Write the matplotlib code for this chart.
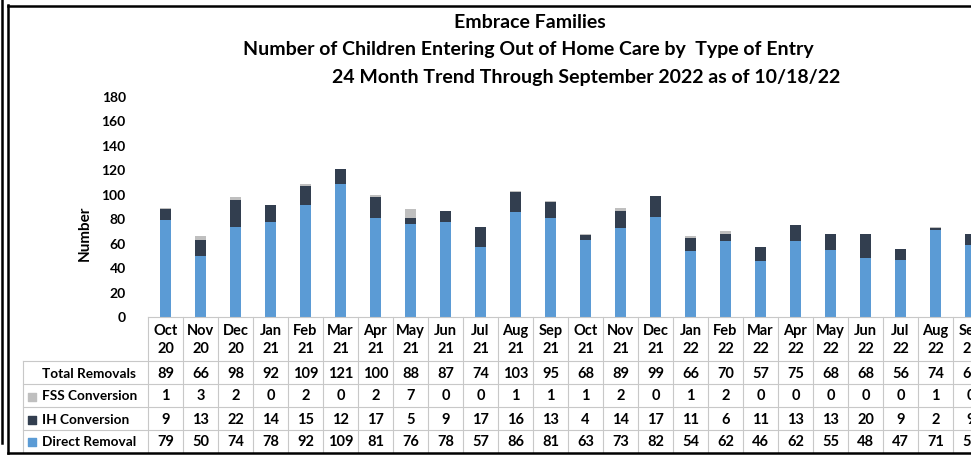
import numpy as np
import matplotlib.pyplot as plt
from matplotlib.lines import Line2D

plt.rcParams['font.family'] = ['Lato', 'DejaVu Sans']
plt.rcParams['font.weight'] = 'bold'

months = ['Oct', 'Nov', 'Dec', 'Jan', 'Feb', 'Mar', 'Apr', 'May', 'Jun', 'Jul', 'Aug', 'Sep',
          'Oct', 'Nov', 'Dec', 'Jan', 'Feb', 'Mar', 'Apr', 'May', 'Jun', 'Jul', 'Aug', 'Sep']
years = ['20', '20', '20', '21', '21', '21', '21', '21', '21', '21', '21', '21',
         '21', '21', '21', '22', '22', '22', '22', '22', '22', '22', '22', '22']
total_removals = [89, 66, 98, 92, 109, 121, 100, 88, 87, 74, 103, 95,
                  68, 89, 99, 66, 70, 57, 75, 68, 68, 56, 74, 68]
fss_conversion = [1, 3, 2, 0, 2, 0, 2, 7, 0, 0, 1, 1,
                  1, 2, 0, 1, 2, 0, 0, 0, 0, 0, 1, 0]
ih_conversion = [9, 13, 22, 14, 15, 12, 17, 5, 9, 17, 16, 13,
                 4, 14, 17, 11, 6, 11, 13, 13, 20, 9, 2, 9]
direct_removal = [79, 50, 74, 78, 92, 109, 81, 76, 78, 57, 86, 81,
                  63, 73, 82, 54, 62, 46, 62, 55, 48, 47, 71, 59]

C_DIRECT = '#5B9BD5'
C_IH = '#323E4F'
C_FSS = '#BFBFBF'
GRID = '#C8C8C8'

W, H = 971, 455
fig = plt.figure(figsize=(W / 100, H / 100), dpi=100)

def fx(px):
    return px / W

def fy(py):
    return 1 - py / H

# chart area: columns 35 px wide starting at x=148, y 0 at 317, 180 at 97
col_w = 35
x0, x1 = 148, 148 + col_w * len(months)
ax = fig.add_axes([fx(x0), fy(317), (x1 - x0) / W, (317 - 97) / H])
x = np.arange(len(months))
d = np.array(direct_removal)
ih = np.array(ih_conversion)
fss = np.array(fss_conversion)
bw = 0.31
ax.bar(x, d, bw, color=C_DIRECT)
ax.bar(x, ih, bw, bottom=d, color=C_IH)
ax.bar(x, fss, bw, bottom=d + ih, color=C_FSS)
ax.set_xlim(-0.5, len(months) - 0.5)
ax.set_ylim(0, 180)
ax.set_yticks(range(0, 181, 20))
ax.tick_params(axis='y', length=0, pad=16, labelsize=10)
ax.tick_params(axis='x', length=0, labelbottom=False)
for s in ax.spines.values():
    s.set_visible(False)
for lbl in ax.get_yticklabels():
    lbl.set_fontweight('bold')

fig.text(fx(85), fy(233), 'Number', rotation=90, ha='center', va='center',
         fontsize=11, fontweight='bold')

# titles
fig.text(fx(530), fy(22), 'Embrace Families', ha='center', va='center',
         fontsize=14, fontweight='bold')
fig.text(fx(528), fy(49), 'Number of Children Entering Out of Home Care by  Type of Entry',
         ha='center', va='center', fontsize=14, fontweight='bold')
fig.text(fx(586), fy(77), '24 Month Trend Through September 2022 as of 10/18/22',
         ha='center', va='center', fontsize=14, fontweight='bold')

# data table below the chart
tl = 23
tab = fig.add_axes([fx(tl), fy(452), (x1 - tl) / W, (452 - 317) / H])
tab.set_xlim(-0.5 - (x0 - tl) / col_w, len(months) - 0.5)
tab.set_ylim(452, 317)
tab.axis('off')

def px2col(px):
    return (px - x0) / col_w - 0.5

row_edges = [361, 384, 407, 430, 452]
for i in range(len(months) + 1):
    tab.plot([i - 0.5, i - 0.5], [317, 452], color=GRID, lw=0.8, clip_on=False)
tab.plot([-0.5, len(months) - 0.5], [317, 317], color=GRID, lw=0.8, clip_on=False)
tab.plot([px2col(tl), px2col(tl)], [361, 452], color=GRID, lw=0.8, clip_on=False)
for ye in row_edges[:-1]:
    tab.plot([px2col(tl), len(months) - 0.5], [ye, ye], color=GRID, lw=0.8, clip_on=False)

for i in range(len(months)):
    tab.text(i, 331, months[i], ha='center', va='center', fontsize=10.5, fontweight='bold')
    tab.text(i, 349, years[i], ha='center', va='center', fontsize=10.5, fontweight='bold')

rows = [('Total Removals', total_removals, None),
        ('FSS Conversion', fss_conversion, C_FSS),
        ('IH Conversion', ih_conversion, C_IH),
        ('Direct Removal', direct_removal, C_DIRECT)]
for r, (name, vals, key) in enumerate(rows):
    yc = (row_edges[r] + row_edges[r + 1]) / 2 + 1
    tab.text(px2col(42), yc, name, ha='left', va='center', fontsize=9.8, fontweight='bold')
    if key:
        tab.scatter([px2col(32)], [yc], marker='s', s=30, color=key, clip_on=False)
    for i, v in enumerate(vals):
        tab.text(i, yc, str(v), ha='center', va='center', fontsize=10.5, fontweight='bold')

# image frame lines
fig.add_artist(Line2D([fx(1.5), fx(1.5)], [fy(0), fy(443)], color='black', lw=1.8))
fig.add_artist(Line2D([fx(8), fx(8)], [fy(5), fy(453)], color='black', lw=1.8))
fig.add_artist(Line2D([fx(8), fx(W)], [fy(5.5), fy(5.5)], color='black', lw=1.8))
fig.add_artist(Line2D([fx(8), fx(W)], [fy(453), fy(453)], color='black', lw=1.8))

fig.savefig('out.png', dpi=100)
